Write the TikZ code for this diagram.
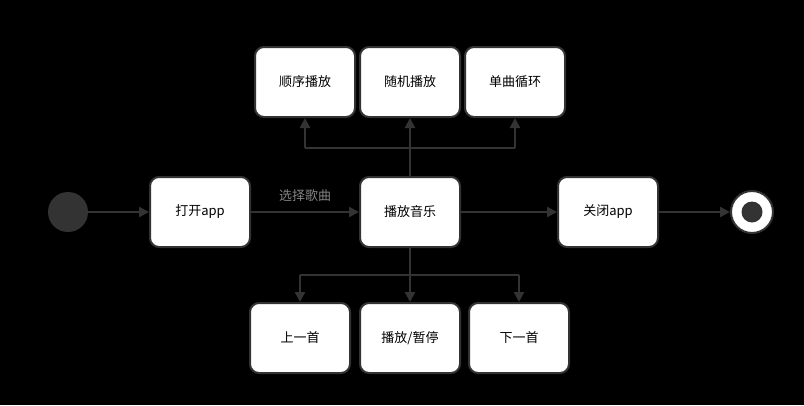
\documentclass[tikz,border=0pt]{standalone}
\usepackage{fontspec}
\setmainfont{Noto Sans CJK SC}
\usetikzlibrary{arrows.meta}
\definecolor{ln}{HTML}{333333}
\begin{document}
\begin{tikzpicture}[x=1pt,y=-1pt,
  box/.style={draw=ln,line width=2pt,fill=white,rounded corners=9pt,minimum width=100pt,minimum height=70pt,font=\fontsize{13}{15}\selectfont,text=black},
  conn/.style={draw=ln,line width=2.2pt,-{Triangle[length=10pt,width=10pt]}},
  plain/.style={draw=ln,line width=2.2pt}]
\fill[black] (0,0) rectangle (804,405);
\useasboundingbox (0,0) rectangle (804,405);
\node[circle,fill=ln,minimum size=40pt,inner sep=0pt] (start) at (68,212) {};
\node[box] (open) at (200,212) {打开app};
\node[box] (play) at (410,212) {播放音乐};
\node[box] (close) at (608,212) {关闭app};
\node[circle,draw=ln,line width=2pt,fill=white,minimum size=42pt,inner sep=0pt] (end) at (752,212) {};
\node[circle,fill=ln,minimum size=21pt,inner sep=0pt] (endc) at (752,212) {};
\node[box] (seq) at (305,82) {顺序播放};
\node[box] (rnd) at (410,82) {随机播放};
\node[box] (loop) at (515,82) {单曲循环};
\node[box] (prev) at (300,338) {上一首};
\node[box] (pause) at (410,338) {播放/暂停};
\node[box] (next) at (519,338) {下一首};
\draw[conn] (start) -- (open);
\draw[conn] (open) -- node[above=6pt,text=ln!60!white,font=\fontsize{13}{15}\selectfont] (lbl) {选择歌曲} (play);
\draw[conn] (play) -- (close);
\draw[conn] (close) -- (end);
\coordinate (tj) at (410,148);
\coordinate (bj) at (410,275);
\draw[plain] (play.north) -- (tj);
\draw[plain] (seq.south |- tj) -- (loop.south |- tj);
\draw[conn] (tj) -- (rnd.south);
\draw[conn] (seq.south |- tj) -- (seq.south);
\draw[conn] (loop.south |- tj) -- (loop.south);
\draw[plain] (play.south) -- (bj);
\draw[plain] (prev.north |- bj) -- (next.north |- bj);
\draw[conn] (bj) -- (pause.north);
\draw[conn] (prev.north |- bj) -- (prev.north);
\draw[conn] (next.north |- bj) -- (next.north);
\end{tikzpicture}
\end{document}
